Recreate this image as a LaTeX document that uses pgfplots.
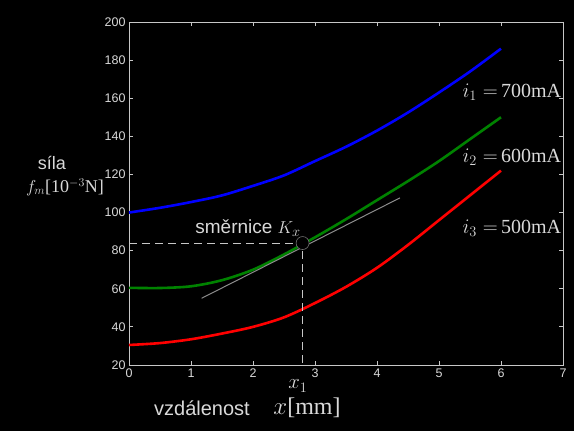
\documentclass[border=0pt]{standalone}
\usepackage{pgfplots}
\pgfplotsset{compat=1.18}
\usepackage{fontspec}
\setmainfont{Liberation Sans}
\newfontfamily\serif{Liberation Serif}
\definecolor{txt}{gray}{0.85}
\definecolor{axl}{gray}{0.78}
\definecolor{mgreen}{RGB}{0,130,0}
\begin{document}
\begin{tikzpicture}[x=1pt,y=1pt]
\fill[black] (0,0) rectangle (574,431);
\begin{axis}[
  at={(129pt,66pt)}, anchor=south west,
  scale only axis, width=434pt, height=343pt,
  xmin=0, xmax=7, ymin=20, ymax=200,
  xtick={0,1,...,7}, ytick={20,40,...,200},
  tick align=inside, major tick length=4pt,
  axis line style={axl, line width=0.9pt},
  tick style={axl, line width=0.8pt},
  ticklabel style={txt, font=\fontsize{12.5}{13}\selectfont},
  /pgf/number format/assume math mode=true,
  clip=false,
]
\addplot[blue, line width=2.6pt, smooth] coordinates {
(0,100)(0.5,102.5)(1,105.5)(1.5,109)(2,114)(2.5,119.5)(3,127)(3.5,134.5)(4,143)(4.5,152.5)(5,163)(5.5,174)(6,186)};
\addplot[mgreen, line width=2.6pt, smooth] coordinates {
(0,60.5)(0.5,60.4)(1,61.3)(1.5,64.5)(2,70)(2.5,78)(3,87)(3.5,96.5)(4,106.5)(4.5,116.5)(5,127)(5.5,138.5)(6,150)};
\addplot[red, line width=2.6pt, smooth] coordinates {
(0,30.5)(0.5,31.5)(1,33.5)(1.5,36.5)(2,40)(2.5,45)(3,52.5)(3.5,61)(4,71)(4.5,83)(5,96)(5.5,109)(6,122)};
\addplot[white!55!black, line width=1pt] coordinates {(1.17,55)(4.37,107.7)};
\addplot[axl, line width=0.8pt, dash pattern=on 8pt off 5pt] coordinates {(0,84)(2.8,84)(2.8,20)};
\addplot[only marks, mark=*, mark size=6.5pt, mark options={fill=black, draw=white!45!black, line width=0.6pt}] coordinates {(2.8,84)};
\end{axis}
\node[txt, font=\fontsize{18}{18}\selectfont] at (52,268) {síla};
\node[txt, font=\fontsize{18}{18}\selectfont\serif] at (65,244) {$f_m$[10$^{-3}$N]};
\node[txt, font=\fontsize{19}{19}\selectfont] at (248,203) {směrnice $K_x$};
\node[txt, font=\fontsize{20}{20}\selectfont\serif, anchor=west] at (459,339) {$i_1 = \,$700mA};
\node[txt, font=\fontsize{20}{20}\selectfont\serif, anchor=west] at (459,274) {$i_2 = \,$600mA};
\node[txt, font=\fontsize{20}{20}\selectfont\serif, anchor=west] at (459,203) {$i_3 = \,$500mA};
\node[txt, font=\fontsize{20}{20}\selectfont] at (298,45) {$x_1$};
\node[txt, font=\fontsize{20}{20}\selectfont] at (202,23) {vzdálenost};
\node[txt, font=\fontsize{24}{24}\selectfont\serif] at (307,23) {$x$[mm]};
\pgfresetboundingbox
\useasboundingbox (0,0) rectangle (574,431);
\end{tikzpicture}
\end{document}
